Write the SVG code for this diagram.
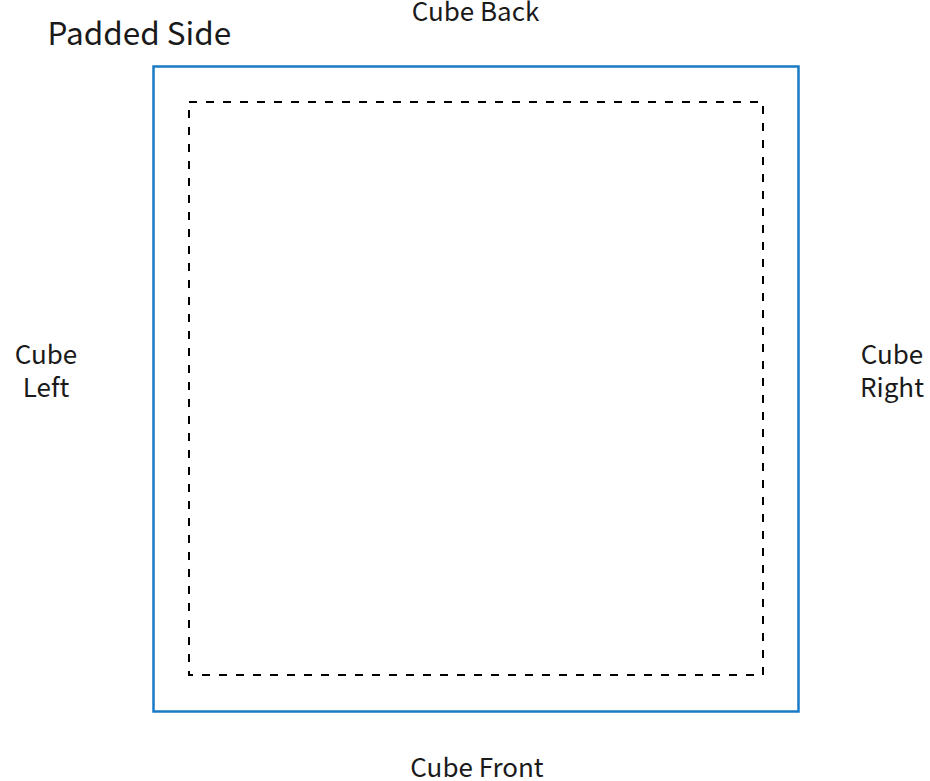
<svg xmlns="http://www.w3.org/2000/svg" width="930" height="781" viewBox="0 0 930 781">
<style>
text { font-family: "Noto Sans CJK SC", "Noto Sans", sans-serif; fill: #1a1a1a; }
.lbl { font-size: 26px; text-anchor: middle; }
.title { font-size: 31.5px; }
.outer { fill: none; stroke: #1a7bc4; stroke-width: 2.5; }
.inner { fill: none; stroke: #000000; stroke-width: 2; stroke-dasharray: 8 9; }
</style>
<rect width="930" height="781" fill="#ffffff"/>
<g id="padded-side">
<rect class="outer" x="153.5" y="66.5" width="645" height="645"/>
<text class="title" x="47.5" y="44.5">Padded Side</text>
</g>
<g id="inner-area">
<rect class="inner" x="189" y="102" width="574" height="573"/>
</g>
<g id="cube-back"><text class="lbl" x="475.5" y="21">Cube Back</text></g>
<g id="cube-front"><text class="lbl" x="477" y="777">Cube Front</text></g>
<g id="cube-left"><text class="lbl" x="46" y="364">Cube</text><text class="lbl" x="46" y="397">Left</text></g>
<g id="cube-right"><text class="lbl" x="892" y="364">Cube</text><text class="lbl" x="892" y="397">Right</text></g>
<g id="connectors"></g>
</svg>
